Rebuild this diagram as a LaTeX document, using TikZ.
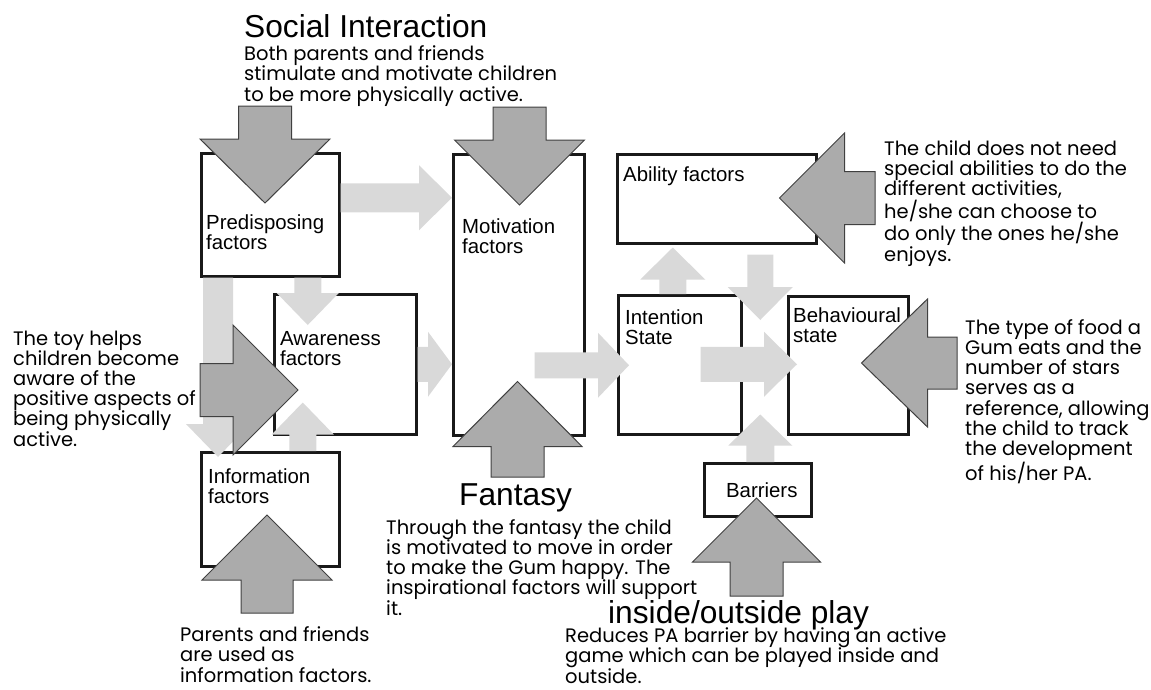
\documentclass[tikz,border=0pt]{standalone}
\usepackage{fontspec}
\setmainfont{Liberation Sans}
\newfontfamily\gothic{Poppins}
\usetikzlibrary{calc}
\usetikzlibrary{positioning}

% block arrow: style, tail, tip, shaft half width, head half width, head length
\newcommand{\blockarrow}[6]{%
	\coordinate (ba-t) at (#2);
	\coordinate (ba-p) at (#3);
	\coordinate (ba-h) at ($(ba-p)!#6!(ba-t)$);
	\filldraw[#1] ($(ba-t)!#4!90:(ba-p)$) -- ($(ba-h)!#4!-90:(ba-t)$) -- ($(ba-h)!#5!-90:(ba-t)$) -- (ba-p)
		-- ($(ba-h)!#5!90:(ba-t)$) -- ($(ba-h)!#4!90:(ba-t)$) -- ($(ba-t)!#4!-90:(ba-p)$) -- cycle;
}

\begin{document}
\begin{tikzpicture}[x=1pt, y=-1pt, font=\fontsize{20.4}{20}\selectfont]
	\tikzstyle{factor}=[draw=black!90, line width=2.5pt, rectangle, fill=white, anchor=north west, inner sep=0pt]
	\tikzstyle{lbl}=[anchor=base west, inner sep=0pt, align=left]
	\tikzstyle{note}=[anchor=base west, inner sep=0pt, align=left, font=\gothic\fontsize{19.5}{20.2}\selectfont]
	\tikzstyle{headline}=[anchor=base west, inner sep=0pt, font=\fontsize{31.7}{32}\selectfont]
	\tikzstyle{lightarrow}=[fill=black!15, draw=none]
	\tikzstyle{darkarrow}=[fill=black!33, draw=black!75, line width=1pt]
	\useasboundingbox (0,0) rectangle (1151,689);

	% factor boxes
	\node[factor, minimum width=138pt, minimum height=123pt] (pre) at (200,152) {};
	\node[factor, minimum width=131pt, minimum height=281pt] (mot) at (452,153) {};
	\node[factor, minimum width=142pt, minimum height=140pt] (aw) at (273,293) {};
	\node[factor, minimum width=138pt, minimum height=114pt] (info) at (200,451) {};
	\node[factor, minimum width=123pt, minimum height=139pt] (int) at (617,294) {};
	\node[factor, minimum width=199pt, minimum height=89pt] (abil) at (616,153) {};
	\node[factor, minimum width=120pt, minimum height=138pt] (beh) at (787,295) {};
	\node[factor, minimum width=107pt, minimum height=53pt] (bar) at (703,462) {};

	% labels (base = last line)
	\node[lbl] (pre-l) at ($(pre.north west)+(6,97)$) {Predisposing\\factors};
	\node[lbl] (mot-l) at ($(mot.north west)+(10,100)$) {Motivation\\factors};
	\node[lbl] (aw-l) at ($(aw.north west)+(7,72)$) {Awareness\\factors};
	\node[lbl] (info-l) at ($(info.north west)+(8,52)$) {Information\\factors};
	\node[lbl] (int-l) at ($(int.north west)+(8,50)$) {Intention\\State};
	\node[lbl] (abil-l) at ($(abil.north west)+(7,28)$) {Ability factors};
	\node[lbl] (beh-l) at ($(beh.north west)+(6,47)$) {Behavioural\\state};
	\node[lbl, anchor=base] (bar-l) at ($(bar.north)+(4,35)$) {Barriers};

	% light arrows between the factors
	\coordinate (pm) at ($(pre.east)+(0,-17)$);
	\coordinate (pa) at ($(pre.south)+(37.5,0)$);
	\coordinate (pi) at ($(pre.south west)+(18,0)$);
	\coordinate (ia) at ($(info.north)+(32.5,0)$);
	\coordinate (ib) at ($(int.north)+(-7,0)$);
	\coordinate (ab) at ($(abil.south)+(43.5,10)$);
	\coordinate (mi) at ($(mot.east)+(-51,70.5)$);
	\coordinate (ih) at ($(int.east)+(-42,-0.5)$);
	\coordinate (bb) at ($(bar.north)+(2.5,0)$);
	\blockarrow{lightarrow}{pm}{pm -| mot.west}{14.5pt}{32.5pt}{33pt}
	\blockarrow{lightarrow}{pa}{$(pa |- aw.north)+(0,32)$}{13.5pt}{31pt}{32pt}
	\blockarrow{lightarrow}{pi}{$(pi |- info.north)+(0,6)$}{15pt}{32pt}{33pt}
	\blockarrow{lightarrow}{ia}{$(ia |- aw.south)+(0,-33)$}{13.5pt}{31pt}{32pt}
	\blockarrow{lightarrow}{aw.east}{aw.east -| mot.west}{17.5pt}{32.5pt}{24pt}
	\blockarrow{lightarrow}{mi}{$(mi -| int.west)+(12,0)$}{13pt}{32.5pt}{31pt}
	\blockarrow{lightarrow}{ib}{$(ib |- abil.south)+(0,3)$}{13.5pt}{32.5pt}{32pt}
	\blockarrow{lightarrow}{ab}{$(ab |- beh.north)+(0,25)$}{13pt}{32.5pt}{33pt}
	\blockarrow{lightarrow}{ih}{$(ih -| beh.west)+(10,0)$}{17.5pt}{32.5pt}{33pt}
	\blockarrow{lightarrow}{bb}{$(bb |- beh.south)+(0,-21)$}{14pt}{32pt}{31pt}

	% dark arrows from the notes
	\coordinate (soc1) at (265,106);
	\coordinate (soc2) at (519.5,107);
	\coordinate (toy) at (200,390);
	\coordinate (par) at (267,613);
	\coordinate (fan) at (517.5,477);
	\coordinate (ins) at (756.5,596);
	\coordinate (abn) at (875,198);
	\coordinate (bhn) at (957,363);
	\blockarrow{darkarrow}{soc1}{$(soc1 |- pre.north)+(0,51)$}{26.5pt}{65pt}{64pt}
	\blockarrow{darkarrow}{soc2}{$(soc2 |- mot.north)+(0,52)$}{26.5pt}{65pt}{65pt}
	\blockarrow{darkarrow}{toy}{$(toy -| aw.west)+(25,0)$}{26.5pt}{65pt}{65pt}
	\blockarrow{darkarrow}{par}{$(par |- info.north)+(0,64)$}{26pt}{65pt}{65pt}
	\blockarrow{darkarrow}{fan}{$(fan |- mot.south)+(0,-55)$}{26.5pt}{64.5pt}{65pt}
	\blockarrow{darkarrow}{ins}{$(ins |- bar.north)+(0,36)$}{26.5pt}{64pt}{64pt}
	\blockarrow{darkarrow}{abn}{$(abn -| abil.east)+(-38,0)$}{26.5pt}{65pt}{65pt}
	\blockarrow{darkarrow}{bhn}{$(bhn -| beh.east)+(-48,0)$}{26pt}{64pt}{66pt}

	% notes (base = last line)
	\node[headline] (soc-t) at (244,37) {Social Interaction};
	\node[note] (soc-n) at (244,101) {Both parents and friends\\stimulate and motivate children\\to be more physically active.};
	\node[note] (toy-n) at (13,446) {The toy helps\\children become\\aware of the\\positive aspects of\\being physically\\active.};
	\node[note] (par-n) at (180,682) {Parents and friends\\are used as\\information factors.};
	\node[headline] (fan-t) at (459,505) {Fantasy};
	\node[note] (fan-n) at (386,615) {Through the fantasy the child\\is motivated to move in order\\to make the Gum happy. The\\inspirational factors will support\\it.};
	\node[headline] (ins-t) at (608,623) {inside/outside play};
	\node[note] (ins-n) at (565,683) {Reduces PA barrier by having an active\\game which can be played inside and\\outside.};
	\node[note] (abl-n) at (884,261) {The child does not need\\special abilities to do the\\different activities,\\he/she can choose to\\do only the ones he/she\\enjoys.};
	\node[note] (beh-n) at (965,480) {The type of food a\\Gum eats and the\\number of stars\\serves as a\\reference, allowing\\the child to track\\the development\\of his/her PA.};
\end{tikzpicture}
\end{document}
